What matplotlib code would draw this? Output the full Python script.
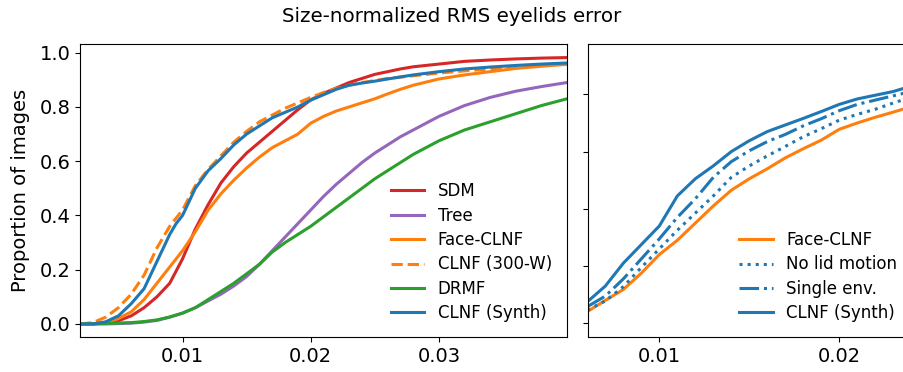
import numpy as np
import matplotlib
matplotlib.use("Agg")
import matplotlib.pyplot as plt

# --- left panel: all methods ---
sdm_x = [0.002, 0.003, 0.004, 0.005, 0.006, 0.007, 0.008, 0.009, 0.010, 0.011, 0.012, 0.013,
         0.014, 0.015, 0.016, 0.017, 0.018, 0.019, 0.020, 0.021, 0.022, 0.023, 0.024, 0.025,
         0.026, 0.027, 0.028, 0.030, 0.032, 0.034, 0.036, 0.038, 0.040]
sdm_y = [0, 0, 0.003, 0.012, 0.03, 0.06, 0.10, 0.15, 0.24, 0.35, 0.44, 0.52,
         0.58, 0.63, 0.67, 0.71, 0.75, 0.79, 0.826, 0.85, 0.87, 0.89, 0.905, 0.92,
         0.93, 0.94, 0.948, 0.958, 0.968, 0.973, 0.977, 0.980, 0.982]

tree_x = [0.002, 0.004, 0.006, 0.007, 0.008, 0.009, 0.010, 0.011, 0.012, 0.013, 0.014, 0.015,
          0.016, 0.017, 0.018, 0.019, 0.020, 0.021, 0.022, 0.023, 0.024, 0.025, 0.026, 0.027,
          0.028, 0.029, 0.030, 0.032, 0.034, 0.036, 0.038, 0.040]
tree_y = [0, 0, 0.003, 0.007, 0.013, 0.025, 0.04, 0.06, 0.085, 0.11, 0.14, 0.175,
          0.22, 0.27, 0.32, 0.37, 0.42, 0.47, 0.515, 0.555, 0.595, 0.63, 0.66, 0.69,
          0.715, 0.74, 0.765, 0.805, 0.835, 0.858, 0.875, 0.89]

face_x = [0.002, 0.003, 0.004, 0.005, 0.006, 0.007, 0.008, 0.009, 0.010, 0.011, 0.012, 0.013,
          0.014, 0.015, 0.016, 0.017, 0.018, 0.019, 0.020, 0.021, 0.022, 0.023, 0.024, 0.025,
          0.026, 0.027, 0.028, 0.030, 0.032, 0.034, 0.036, 0.038, 0.040]
face_y = [0, 0, 0.005, 0.02, 0.045, 0.09, 0.15, 0.21, 0.27, 0.34, 0.42, 0.48,
          0.53, 0.575, 0.615, 0.65, 0.675, 0.70, 0.74, 0.765, 0.785, 0.80, 0.815, 0.83,
          0.848, 0.865, 0.88, 0.903, 0.918, 0.930, 0.942, 0.950, 0.957]

w300_x = [0.002, 0.003, 0.004, 0.005, 0.006, 0.007, 0.008, 0.009, 0.010, 0.011, 0.012, 0.013,
          0.014, 0.015, 0.016, 0.017, 0.018, 0.019, 0.020, 0.021, 0.022, 0.023, 0.024, 0.025,
          0.026, 0.028, 0.030, 0.032, 0.034, 0.036, 0.038, 0.040]
w300_y = [0, 0.005, 0.025, 0.06, 0.11, 0.18, 0.28, 0.36, 0.42, 0.51, 0.57, 0.62,
          0.67, 0.71, 0.745, 0.77, 0.795, 0.815, 0.835, 0.853, 0.868, 0.88, 0.89, 0.897,
          0.905, 0.915, 0.925, 0.933, 0.940, 0.948, 0.955, 0.958]

drmf_x = [0.002, 0.004, 0.006, 0.007, 0.008, 0.009, 0.010, 0.011, 0.012, 0.013, 0.014, 0.015,
          0.016, 0.017, 0.018, 0.019, 0.020, 0.021, 0.022, 0.023, 0.024, 0.025, 0.026, 0.027,
          0.028, 0.029, 0.030, 0.031, 0.032, 0.034, 0.036, 0.038, 0.040]
drmf_y = [0, 0.002, 0.005, 0.009, 0.015, 0.026, 0.04, 0.06, 0.09, 0.12, 0.15, 0.185,
          0.22, 0.265, 0.30, 0.33, 0.36, 0.395, 0.43, 0.465, 0.50, 0.535, 0.565, 0.595,
          0.625, 0.65, 0.675, 0.695, 0.715, 0.745, 0.775, 0.805, 0.83]

synth_x = [0.002, 0.003, 0.004, 0.005, 0.006, 0.007, 0.008, 0.009, 0.0095, 0.010, 0.0105, 0.011,
           0.012, 0.013, 0.014, 0.015, 0.016, 0.017, 0.018, 0.019, 0.020, 0.021, 0.022, 0.023,
           0.024, 0.025, 0.026, 0.028, 0.030, 0.032, 0.034, 0.036, 0.038, 0.040]
synth_y = [0, 0, 0.008, 0.03, 0.075, 0.13, 0.23, 0.33, 0.37, 0.40, 0.45, 0.50,
           0.565, 0.61, 0.66, 0.70, 0.73, 0.76, 0.78, 0.80, 0.825, 0.845, 0.865, 0.88,
           0.888, 0.895, 0.903, 0.918, 0.930, 0.940, 0.947, 0.953, 0.958, 0.962]

# --- right panel: ablation ---
abl_x = [0.006, 0.007, 0.008, 0.009, 0.010, 0.011, 0.012, 0.013, 0.014, 0.015,
         0.016, 0.017, 0.018, 0.019, 0.020, 0.021, 0.022, 0.023, 0.024]
abl_face = [0.041, 0.08, 0.118, 0.175, 0.24, 0.29, 0.35, 0.41, 0.465, 0.505,
            0.54, 0.578, 0.61, 0.64, 0.678, 0.70, 0.72, 0.738, 0.757]
abl_nolid = [0.046, 0.078, 0.128, 0.195, 0.26, 0.325, 0.385, 0.445, 0.51, 0.55,
             0.585, 0.618, 0.652, 0.68, 0.71, 0.73, 0.748, 0.77, 0.79]
abl_single = [0.058, 0.095, 0.155, 0.225, 0.295, 0.37, 0.435, 0.51, 0.565, 0.603,
              0.635, 0.66, 0.69, 0.715, 0.743, 0.765, 0.78, 0.795, 0.81]
abl_synth = [0.075, 0.13, 0.21, 0.275, 0.34, 0.445, 0.505, 0.55, 0.60, 0.638,
             0.67, 0.693, 0.716, 0.74, 0.765, 0.784, 0.797, 0.81, 0.829]

lw = 2.2
fig = plt.figure(figsize=(9.04, 3.72), dpi=100)

ax1 = fig.add_axes([80/904, 35/372, 487/904, 293/372])
ax1.plot(sdm_x, sdm_y, color='tab:red', lw=lw, label='SDM')
ax1.plot(tree_x, tree_y, color='tab:purple', lw=lw, label='Tree')
ax1.plot(face_x, face_y, color='tab:orange', lw=lw, label='Face-CLNF')
ax1.plot(w300_x, w300_y, color='tab:orange', lw=lw, ls='--', label='CLNF (300-W)')
ax1.plot(drmf_x, drmf_y, color='tab:green', lw=lw, label='DRMF')
ax1.plot(synth_x, synth_y, color='tab:blue', lw=lw, label='CLNF (Synth)')
ax1.set_xlim(0.002, 0.040)
ax1.set_ylim(-0.048, 1.032)
ax1.set_xticks([0.01, 0.02, 0.03])
ax1.set_yticks([0.0, 0.2, 0.4, 0.6, 0.8, 1.0])
ax1.set_ylabel('Proportion of images', fontsize=14, labelpad=7)
ax1.tick_params(labelsize=14)
ax1.legend(loc='lower right', frameon=False, fontsize=12, labelspacing=0.38)

ax2 = fig.add_axes([587.7/904, 35/372, 324.3/904, 293/372])
ax2.plot(abl_x, abl_face, color='tab:orange', lw=lw, label='Face-CLNF')
ax2.plot(abl_x, abl_nolid, color='tab:blue', lw=lw, ls=':', label='No lid motion')
ax2.plot(abl_x, abl_single, color='tab:blue', lw=lw, ls='-.', label='Single env.')
ax2.plot(abl_x, abl_synth, color='tab:blue', lw=lw, label='CLNF (Synth)')
ax2.set_xlim(0.00602, 0.02404)
ax2.set_ylim(-0.048, 0.976)
ax2.set_xticks([0.01, 0.02])
ax2.set_yticks([0.0, 0.2, 0.4, 0.6, 0.8])
ax2.set_yticklabels([])
ax2.tick_params(labelsize=14)
ax2.legend(loc='lower right', frameon=False, fontsize=12, labelspacing=0.38)

fig.text(0.5, 1 - 17/372, 'Size-normalized RMS eyelids error', ha='center', va='center', fontsize=14.3)

fig.savefig('out.png', dpi=100)
